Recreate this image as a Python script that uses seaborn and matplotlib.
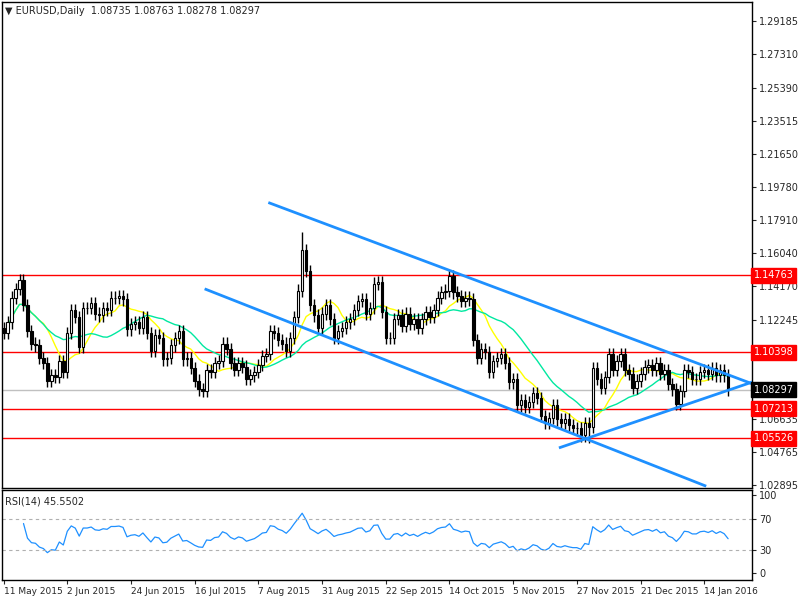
import numpy as np
import pandas as pd
import matplotlib
matplotlib.use("Agg")
import matplotlib.pyplot as plt
import matplotlib.transforms as mtransforms
import seaborn as sns

sns.set_style("white")
plt.rcParams['font.family'] = ['DejaVu Sans']

# Daily closes
closes = [
 1.115,1.121,1.135,1.140,1.145,1.131,1.116,1.109,1.108,1.101,1.098,1.088,1.091,1.090,1.099,1.093,
 1.115,1.128,1.124,1.107,1.129,1.129,1.132,1.126,1.125,1.129,1.128,1.135,1.135,1.136,1.134,1.117,
 1.120,1.121,1.118,1.124,1.115,
 1.105,1.114,1.112,1.100,1.101,1.108,1.112,1.116,1.100,1.101,1.095,1.088,1.083,1.082,1.094,1.093,
 1.098,1.099,1.109,1.106,1.098,1.094,1.098,1.096,1.089,1.091,1.093,1.097,1.102,1.103,1.116,1.115,
 1.111,1.109,1.105,1.112,1.124,1.139,
 1.162,1.150,1.131,1.125,1.118,1.126,1.131,1.123,1.112,1.116,1.118,1.121,1.123,1.128,1.133,1.134,
 1.126,1.129,1.143,1.144,1.127,1.112,1.112,1.123,1.125,1.119,1.126,1.120,1.123,1.118,1.123,1.127,
 1.124,1.128,1.135,1.138,1.139,
 1.147,1.138,1.136,1.133,1.135,1.134,1.111,1.101,1.106,1.104,1.093,1.099,1.101,1.103,1.098,1.087,
 1.089,1.074,1.077,1.073,1.076,1.081,1.078,1.068,1.064,1.067,1.074,1.066,1.064,1.066,1.063,1.061,
 1.061,1.057,1.064,1.062,1.095,
 1.089,1.084,1.090,1.103,1.094,1.099,1.103,1.094,1.092,1.084,1.088,1.092,1.096,1.097,1.094,1.098,
 1.092,1.094,1.086,1.083,1.075,1.082,1.094,1.093,1.089,1.089,1.093,1.094,1.092,1.095,1.091,1.094,
 1.091,1.08297]
first_open = 1.1180
wick_up = 0.0035
wick_dn = 0.0035
extra_high = {75: 1.1720}
extra_low = {147: 1.0525}

date_labels = ["11 May 2015","2 Jun 2015","24 Jun 2015","16 Jul 2015","7 Aug 2015","31 Aug 2015",
               "22 Sep 2015","14 Oct 2015","5 Nov 2015","27 Nov 2015","21 Dec 2015","14 Jan 2016"]
date_step = 16

red_levels = [1.14763, 1.10398, 1.07213, 1.05526]
last_price = 1.08297
ytick_vals = [1.29185,1.27310,1.25390,1.23515,1.21650,1.19780,1.17910,1.16040,1.14170,1.12245,1.06635,1.04765,1.02895]

# trend line anchors: (bar index, price)
upper_line = [(66.5, 1.1889), (189.5, 1.0850)]
lower_line = [(50.5, 1.1400), (176.5, 1.0282)]
support_line = [(139.5, 1.0499), (189.5, 1.0883)]

n = len(closes)
idx = np.arange(n)
c = np.array(closes)
o = np.concatenate([[first_open], c[:-1]])
h = np.maximum(o, c) + wick_up
l = np.minimum(o, c) - wick_dn
for k, v in extra_high.items():
    if k < n: h[k] = v
for k, v in extra_low.items():
    if k < n: l[k] = v

df = pd.DataFrame({"i": idx, "close": c})
df["ma_fast"] = df["close"].rolling(10, min_periods=1).mean()
df["ma_slow"] = df["close"].rolling(21, min_periods=1).mean()
d = df["close"].diff()
gain = d.clip(lower=0).ewm(alpha=1/14, adjust=True).mean()
loss = (-d.clip(upper=0)).ewm(alpha=1/14, adjust=True).mean()
df["rsi"] = 100 - 100 / (1 + gain / loss.replace(0, np.nan))

fig = plt.figure(figsize=(8, 6), dpi=100)
ax = fig.add_axes([0.003, 0.187, 0.937, 0.81])
ax2 = fig.add_axes([0.003, 0.033, 0.937, 0.150])
xl = (-0.3, 188.0)

up = c >= o
ax.vlines(idx, l, h, color="black", linewidth=1, zorder=3)
ax.bar(idx[up], (c - o)[up], bottom=o[up], width=0.6, color="white", edgecolor="black", linewidth=0.8, zorder=4)
ax.bar(idx[~up], (o - c)[~up], bottom=c[~up], width=0.6, color="black", edgecolor="black", linewidth=0.8, zorder=4)

sns.lineplot(data=df, x="i", y="ma_fast", ax=ax, color="#ffff00", linewidth=1, zorder=2)
sns.lineplot(data=df, x="i", y="ma_slow", ax=ax, color="#00e8a0", linewidth=1, zorder=2)

for lv in red_levels:
    ax.axhline(lv, color="red", linewidth=1, zorder=1)
ax.axhline(last_price, color="#c0c0c0", linewidth=1, zorder=1)

for ln in (upper_line, lower_line, support_line):
    xs, ys = zip(*ln)
    ax.plot(xs, ys, color="#1e90ff", linewidth=2.0, zorder=5, solid_capstyle="butt")

ax.set_xlim(*xl)
ax.set_ylim(1.0273, 1.3026)
ax.yaxis.tick_right()
ax.set_yticks(ytick_vals)
ax.set_yticklabels([f"{v:.5f}" for v in ytick_vals], fontsize=7)
ax.tick_params(axis="y", length=3, pad=2, right=True, direction="out")
ax.set_xticks([])
ax.set_xlabel(""); ax.set_ylabel("")
for s in ax.spines.values():
    s.set_color("black"); s.set_linewidth(1)

trans = mtransforms.blended_transform_factory(ax.transAxes, ax.transData)
for lv in red_levels:
    ax.text(1.002, lv, f"{lv:.5f}", transform=trans, fontsize=7, color="white", va="center", ha="left",
            bbox=dict(boxstyle="square,pad=0.25", fc="red", ec="red"), zorder=10, clip_on=False)
ax.text(1.002, last_price, f"{last_price:.5f}", transform=trans, fontsize=7, color="white", va="center",
        ha="left", bbox=dict(boxstyle="square,pad=0.25", fc="black", ec="black"), zorder=10, clip_on=False)

ax.text(0.004, 0.992, "\u25BC EURUSD,Daily  1.08735 1.08763 1.08278 1.08297", transform=ax.transAxes,
        fontsize=7, va="top", ha="left")

sns.lineplot(data=df, x="i", y="rsi", ax=ax2, color="#1e90ff", linewidth=0.9)
for lv in (30, 70):
    ax2.axhline(lv, color="#b0b0b0", linewidth=0.8, linestyle=(0, (3, 3)))
ax2.set_xlim(*xl)
ax2.set_ylim(-9, 106.5)
ax2.yaxis.tick_right()
ax2.set_yticks([0, 30, 70, 100])
ax2.set_yticklabels(["0", "30", "70", "100"], fontsize=7)
ax2.tick_params(axis="y", length=3, pad=2, right=True)
ticks = [k * date_step for k in range(len(date_labels))]
ax2.set_xticks(ticks)
ax2.set_xticklabels(date_labels, fontsize=6.5, ha="left")
ax2.tick_params(axis="x", length=3, pad=2, bottom=True)
ax2.set_xlabel(""); ax2.set_ylabel("")
for s in ax2.spines.values():
    s.set_color("black"); s.set_linewidth(1)
last_rsi = 45.5502
ax2.text(0.004, 0.93, f"RSI(14) {last_rsi:.4f}", transform=ax2.transAxes, fontsize=7, va="top", ha="left")

fig.savefig("out.png", dpi=100)
